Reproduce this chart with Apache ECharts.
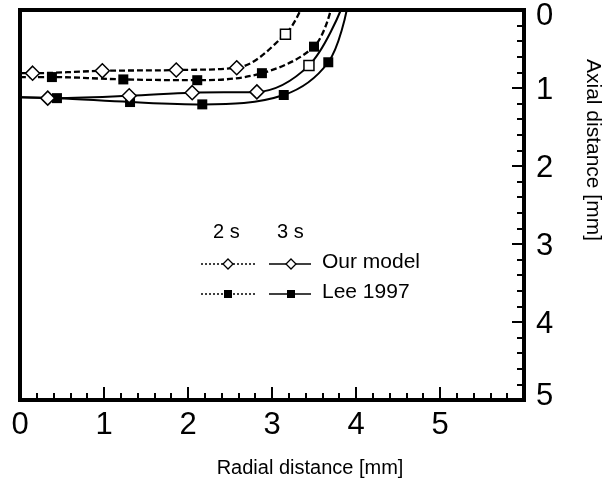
<!DOCTYPE html>
<html><head><meta charset="utf-8">
<script src="https://cdn.jsdelivr.net/npm/echarts@6/dist/echarts.min.js"></script>
<style>html,body{margin:0;padding:0;background:#fff}#c{width:604px;height:488px}</style>
</head><body><div id="c"></div>
<script>
// ---- data ----
const xTickLabels = ['0','1','2','3','4','5'];
const yTickLabels = ['0','1','2','3','4','5'];

const model2sX = [0, 0.15, 0.98, 1.86, 2.58, 3.16, 3.34];
const model2sY = [0.81, 0.81, 0.78, 0.77, 0.74, 0.31, 0];
const lee2sX   = [0, 0.38, 1.23, 2.11, 2.88, 3.50, 3.70];
const lee2sY   = [0.86, 0.86, 0.89, 0.90, 0.81, 0.47, 0];
const model3sX = [0, 0.33, 1.30, 2.05, 2.82, 3.44, 3.82];
const model3sY = [1.12, 1.13, 1.10, 1.06, 1.05, 0.71, 0];
const lee3sX   = [0, 0.44, 1.31, 2.17, 3.14, 3.67, 3.89];
const lee3sY   = [1.12, 1.13, 1.18, 1.21, 1.09, 0.67, 0];

// marker kind per point (style only)
const modelMarks = ['none','diamond','diamond','diamond','diamond','rect','none'];
const leeMarks   = ['none','rect','rect','rect','rect','rect','none'];

function pts(xs, ys, marks, sizeMap){
  return xs.map((x,i)=>({value:[x, ys[i]], symbol: marks[i], symbolSize: sizeMap[marks[i]] || 0}));
}
const openSizes = {diamond: 14, rect: 10};
const fillSizes = {rect: 10};

const chart = echarts.init(document.getElementById('c'), null, {renderer:'canvas'});
const FONT = 'Liberation Sans, Arial, sans-serif';

function mkSeries(name, xs, ys, marks, sizes, dashed, filled){
  return {
    name, type:'line', smooth:0.35,
    data: pts(xs, ys, marks, sizes),
    lineStyle:{color:'#000', width: dashed ? 2.3 : 2, type: dashed ? [6,3] : 'solid'},
    itemStyle:{color: filled ? '#000' : '#fff', borderColor:'#000', borderWidth: filled ? 0 : 1.5},
    showSymbol:true, z: filled ? 3 : 4, animation:false
  };
}

const legendY1 = 264, legendY2 = 294;
const graphics = [
  {type:'text', left:213, top:222, style:{text:'2 s', font:'20px '+FONT, fill:'#000'}},
  {type:'text', left:277, top:222, style:{text:'3 s', font:'20px '+FONT, fill:'#000'}},
  {type:'line', shape:{x1:201,y1:legendY1,x2:255,y2:legendY1}, style:{stroke:'#000', lineWidth:1.5, lineDash:[2,2]}},
  {type:'line', shape:{x1:269,y1:legendY1,x2:311,y2:legendY1}, style:{stroke:'#000', lineWidth:1.5}},
  {type:'polygon', shape:{points:[[228,legendY1-5],[233,legendY1],[228,legendY1+5],[223,legendY1]]}, style:{fill:'#fff', stroke:'#000', lineWidth:1.3}, z:10},
  {type:'polygon', shape:{points:[[291,legendY1-5],[296,legendY1],[291,legendY1+5],[286,legendY1]]}, style:{fill:'#fff', stroke:'#000', lineWidth:1.3}, z:10},
  {type:'text', left:322, top:legendY1-12, style:{text:'Our model', font:'21px '+FONT, fill:'#000'}},
  {type:'line', shape:{x1:201,y1:legendY2,x2:255,y2:legendY2}, style:{stroke:'#000', lineWidth:1.5, lineDash:[2,2]}},
  {type:'line', shape:{x1:269,y1:legendY2,x2:311,y2:legendY2}, style:{stroke:'#000', lineWidth:1.5}},
  {type:'rect', shape:{x:224,y:legendY2-4,width:8,height:8}, style:{fill:'#000'}, z:10},
  {type:'rect', shape:{x:287,y:legendY2-4,width:8,height:8}, style:{fill:'#000'}, z:10},
  {type:'text', left:322, top:legendY2-12, style:{text:'Lee 1997', font:'21px '+FONT, fill:'#000'}}
];

const lblStyle = {fontFamily:FONT, fontSize:31, color:'#000'};

chart.setOption({
  backgroundColor:'#fff',
  animation:false,
  grid:{left:20, right:80, top:10, bottom:88, show:true, borderColor:'#000', borderWidth:4,
        containLabel:false, outerBoundsMode:'none'},
  xAxis:{
    type:'value', min:0, max:6, interval:1,
    name:'Radial distance [mm]', nameLocation:'middle', nameGap:58,
    nameTextStyle:{fontFamily:FONT, fontSize:20, color:'#000', padding:[0,0,0,76]},
    axisLine:{show:true, onZero:false, lineStyle:{color:'#000', width:4}},
    axisTick:{show:true, inside:true, length:13, lineStyle:{color:'#000', width:2}},
    minorTick:{show:true, splitNumber:5, length:7, lineStyle:{color:'#000', width:2}},
    splitLine:{show:false},
    axisLabel:{fontFamily:FONT, fontSize:31, color:'#000', margin:10,
      formatter:(v)=>{const i=Math.round(v); return (i<xTickLabels.length && Math.abs(v-i)<1e-6)? xTickLabels[i] : '';}}
  },
  yAxis:{
    type:'value', position:'right', inverse:true, min:0, max:5, interval:1,
    name:'Axial distance [mm]', nameLocation:'middle', nameGap:58, nameRotate:-90,
    nameTextStyle:{fontFamily:FONT, fontSize:21, color:'#000', padding:[0,110,0,0]},
    axisLine:{show:true, onZero:false, lineStyle:{color:'#000', width:4}},
    axisTick:{show:true, inside:true, length:12, lineStyle:{color:'#000', width:2}},
    minorTick:{show:true, splitNumber:5, length:7, lineStyle:{color:'#000', width:2}},
    splitLine:{show:false},
    axisLabel:{fontFamily:FONT, fontSize:31, color:'#000', margin:12,
      formatter:(v)=>{
        const i=Math.round(v);
        if(i===0) return '{first|'+yTickLabels[i]+'}';
        if(i===yTickLabels.length-1) return '{last|'+yTickLabels[i]+'}';
        return '{mid|'+yTickLabels[i]+'}';
      },
      rich:{
        first:Object.assign({padding:[13,0,0,0]}, lblStyle),
        mid:Object.assign({padding:[4,0,0,0]}, lblStyle),
        last:Object.assign({padding:[0,0,8,0]}, lblStyle)
      }}
  },
  series:[
    mkSeries('Our model 2 s', model2sX, model2sY, modelMarks, openSizes, true, false),
    mkSeries('Lee 1997 2 s', lee2sX, lee2sY, leeMarks, fillSizes, true, true),
    mkSeries('Our model 3 s', model3sX, model3sY, modelMarks, openSizes, false, false),
    mkSeries('Lee 1997 3 s', lee3sX, lee3sY, leeMarks, fillSizes, false, true)
  ],
  graphic: graphics
});
</script></body></html>
